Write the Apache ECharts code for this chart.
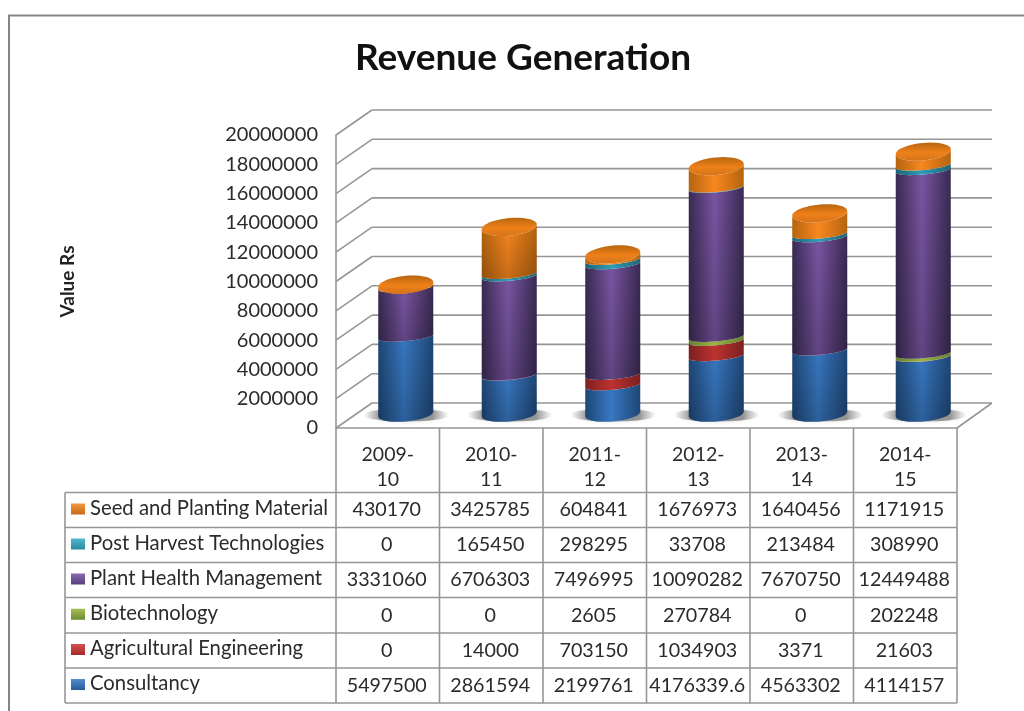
<!DOCTYPE html>
<html><head><meta charset="utf-8">
<style>html,body{margin:0;padding:0;background:#fff}#c{width:1024px;height:711px}</style>
<script src="https://cdn.jsdelivr.net/npm/echarts@6/dist/echarts.min.js"></script>
</head><body><div id="c"></div>
<script>
const categories = ['2009-10','2010-11','2011-12','2012-13','2013-14','2014-15'];
const consultancy = [5497500,2861594,2199761,4176339.6,4563302,4114157];
const agricultural = [0,14000,703150,1034903,3371,21603];
const biotechnology = [0,0,2605,270784,0,202248];
const plantHealth = [3331060,6706303,7496995,10090282,7670750,12449488];
const postHarvest = [0,165450,298295,33708,213484,308990];
const seedPlanting = [430170,3425785,604841,1676973,1640456,1171915];
const yTicks = [0,2000000,4000000,6000000,8000000,10000000,12000000,14000000,16000000,18000000,20000000];
const stackNames = ['Consultancy','Agricultural Engineering','Biotechnology','Plant Health Management','Post Harvest Technologies','Seed and Planting Material'];
const stackValues = [consultancy,agricultural,biotechnology,plantHealth,postHarvest,seedPlanting];
// [edge, highlight] shading of each stack segment
const shades = [['#1e4675','#3878c2'],['#7c2020','#bc3230'],['#647f2c','#9ab545'],['#3a2a52','#7a56a4'],['#1c6478','#2f9db6'],['#b4640f','#f8871f']];
const keyShades = [['#2a5a94','#4f8fd0'],['#a02a28','#d85050'],['#6e8a34','#a5c050'],['#54407a','#8a6ab0'],['#2a8aa0','#4fb8d0'],['#c8681a','#f09a40']];

const FONT = 'Lato';
const TXT = '#2b2b2b', LINE = '#969696';
const DX = 36, DY = 25;              // depth of the 3D box
const PLANE_Y = 417.7, SCALE = 1.007; // projection of the cylinder plane
const FLOOR_Y = 414, TOP_DROP = 3.5;
const RX = 27.5, TILT = 2.4;
const RY_MID = 4.5, RY_BOTTOM = 7.5, RY_TOP = 8.8;

function arc(cx, cy, ry, from, to, n) {
  const pts = [];
  for (let i = 0; i <= n; i++) {
    const t = from + (to - from) * i / n;
    pts.push([cx + RX * Math.cos(t), cy + ry * Math.sin(t) - TILT * Math.cos(t)]);
  }
  return pts;
}
function hGrad(c) {
  return new echarts.graphic.LinearGradient(0,0,1,0,[
    {offset:0,color:c[0]},{offset:0.47,color:c[1]},{offset:1,color:c[0]}]);
}
function makeCyl(idx) {
  return function (params, api) {
    const cat = api.value(0), lo = api.value(1), hi = api.value(2), isTop = idx === 5;
    const y0 = api.coord([cat, 0])[1];
    const cx = api.coord([cat, 0])[0] + DX / 2;
    const py = v => PLANE_Y - (y0 - api.coord([cat, v])[1]) * SCALE;
    const yL = lo === 0 ? FLOOR_Y : py(lo);
    const yH = isTop ? py(hi) + TOP_DROP : py(hi);
    const ryL = lo === 0 ? RY_BOTTOM : RY_MID;
    const ryH = isTop ? RY_TOP : RY_MID;
    const children = [];
    if (hi > lo) {
      const body = arc(cx, yL, ryL, 0, Math.PI, 24).concat(arc(cx, yH, ryH, Math.PI, 0, 24));
      children.push({type:'polygon', shape:{points:body}, style:{fill:hGrad(shades[idx])}});
      if (yL - yH > 30) {
        children.push({type:'polygon', shape:{points:body}, style:{fill:new echarts.graphic.LinearGradient(0,0,0,1,[
          {offset:0,color:'rgba(0,0,0,0)'},{offset:1,color:'rgba(0,0,0,0.2)'}])}});
      }
      if (isTop) {
        children.push({type:'polygon', shape:{points:arc(cx, yH, ryH, 0, 2 * Math.PI, 48)},
          style:{fill:new echarts.graphic.LinearGradient(0,0,0,1,[
            {offset:0,color:'#b8660f'},{offset:0.55,color:'#ee8019'},{offset:1,color:'#d5741a'}])}});
      }
    }
    return {type:'group', children};
  };
}
function stackedData(i) {
  return categories.map((c, k) => {
    let lo = 0; for (let j = 0; j < i; j++) lo += stackValues[j][k];
    return [k, lo, lo + stackValues[i][k]];
  });
}
const cylSeries = stackNames.map((n, i) => ({
  type:'custom', name:n, coordinateSystem:'cartesian2d', clip:false, z:5 + i,
  encode:{x:0,y:[1,2]}, data:stackedData(i), renderItem:makeCyl(i)
}));
// walls: back line and side diagonal for each value tick
const wallSeries = {
  type:'custom', coordinateSystem:'cartesian2d', clip:false, z:2, silent:true,
  encode:{y:0}, data:yTicks.map(v => [v]),
  renderItem:(params, api) => {
    const v = api.value(0);
    const cs = params.coordSys;
    const y = api.coord([0, v])[1];
    const st = {stroke:LINE, lineWidth:1.6, fill:null};
    const kids = [
      {type:'line', shape:{x1:cs.x, y1:y, x2:cs.x + DX, y2:y - DY}, style:st},
      {type:'line', shape:{x1:cs.x + DX, y1:y - DY, x2:cs.x + cs.width + 35, y2:y - DY}, style:st}
    ];
    if (v === 0) kids.push({type:'line', shape:{x1:cs.x + cs.width, y1:y, x2:cs.x + cs.width + 35, y2:y - DY}, style:st});
    return {type:'group', children:kids};
  }
};
// soft floor shadow beneath each cylinder
const shadowSeries = {
  type:'custom', coordinateSystem:'cartesian2d', clip:false, z:3, silent:true,
  encode:{x:0}, data:categories.map((c, k) => [k]),
  renderItem:(params, api) => {
    const p = api.coord([api.value(0), 0]);
    return {type:'ellipse', shape:{cx:p[0] + DX / 2 + 0.5, cy:FLOOR_Y + 1, rx:43, ry:6.5},
      style:{fill:new echarts.graphic.LinearGradient(0,0,1,0,[
        {offset:0,color:'rgba(130,130,130,0)'},{offset:0.2,color:'rgba(90,90,90,0.6)'},
        {offset:0.8,color:'rgba(90,90,90,0.6)'},{offset:1,color:'rgba(130,130,130,0)'}]),
        shadowBlur:4, shadowColor:'rgba(130,130,130,0.35)'}};
  }
};

// data table
const TX = 65, C0 = 336, CW = 103.5, RT = [492.5,527.5,562.5,597.5,633,668,703];
const tableG = [];
const lineSt = {stroke:LINE, lineWidth:1.6};
RT.forEach(y => tableG.push({type:'line', shape:{x1:TX, y1:y, x2:C0 + 6 * CW, y2:y}, style:lineSt}));
tableG.push({type:'line', shape:{x1:TX, y1:RT[0], x2:TX, y2:RT[6]}, style:lineSt});
for (let i = 0; i <= 6; i++) tableG.push({type:'line', shape:{x1:C0 + i * CW, y1:428, x2:C0 + i * CW, y2:RT[6]}, style:lineSt});
[5,4,3,2,1,0].forEach((s, r) => {
  const yc = (RT[r] + RT[r + 1]) / 2;
  tableG.push({type:'rect', shape:{x:71, y:yc - 6.5, width:14, height:11},
    style:{fill:new echarts.graphic.LinearGradient(0,0,0,1,[{offset:0,color:keyShades[s][1]},{offset:1,color:keyShades[s][0]}])}});
  tableG.push({type:'text', style:{text:stackNames[s], x:90, y:yc - 2, align:'left', verticalAlign:'middle', fill:TXT, font:'20.3px '+FONT}});
  stackValues[s].forEach((v, c) => tableG.push({type:'text',
    style:{text:String(v), x:C0 + (c + 0.5) * CW - 1, y:yc, align:'center', verticalAlign:'middle', fill:TXT, font:'19.7px '+FONT}}));
});
// chart frame (left and top edges)
tableG.push({type:'polyline', shape:{points:[[9,711],[9,15.5],[1024,15.5]]}, style:{stroke:'#858585', lineWidth:2, fill:null}});

const chart = echarts.init(document.getElementById('c'), null, {renderer:'canvas'});
chart.setOption({
  animation:false,
  backgroundColor:'#fff',
  title:{text:'Revenue Generation', left:518, top:35, textAlign:'center',
    textStyle:{fontFamily:FONT, fontWeight:'bold', fontSize:37, color:'#111'}},
  grid:{left:336, width:621, top:135, height:293},
  xAxis:{type:'category', data:categories, axisTick:{show:false},
    axisLine:{show:true, lineStyle:{color:LINE, width:1.6}},
    axisLabel:{margin:14, fontFamily:FONT, fontSize:19.5, color:TXT, lineHeight:25, interval:0,
      formatter:v => v.replace('-', '-\n')}},
  yAxis:{type:'value', min:0, max:20000000, interval:2000000, name:'Value Rs', nameLocation:'middle', nameGap:259, nameRotate:90,
    nameTextStyle:{fontFamily:FONT, fontSize:19, fontWeight:'bold', color:'#222'},
    axisTick:{show:false}, splitLine:{show:false},
    axisLine:{show:true, lineStyle:{color:LINE, width:1.6}},
    axisLabel:{margin:18, fontFamily:FONT, fontSize:20, color:TXT, lineHeight:20, padding:[5,0,0,0], formatter:v => String(v)}},
  graphic:{elements:tableG},
  series:[wallSeries, shadowSeries].concat(cylSeries)
});
</script></body></html>
